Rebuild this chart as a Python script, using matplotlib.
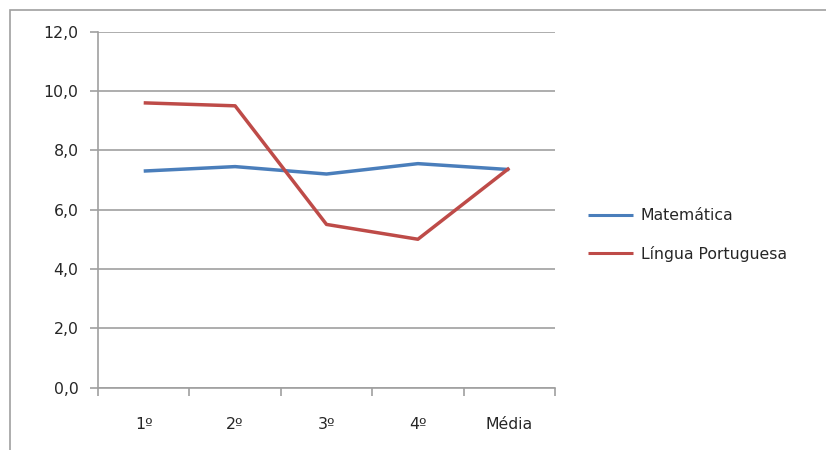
import matplotlib
matplotlib.use("Agg")
import matplotlib.pyplot as plt
from matplotlib.patches import Rectangle

categories = ["1º", "2º", "3º", "4º", "Média"]
matematica = [7.3, 7.45, 7.2, 7.55, 7.35]
lingua_portuguesa = [9.6, 9.5, 5.5, 5.0, 7.4]
series_names = ["Matemática", "Língua Portuguesa"]
y_ticks = [0, 2, 4, 6, 8, 10, 12]

plt.rcParams["font.family"] = ["DejaVu Sans"]

grid_col = "#a0a0a0"
text_col = "#262626"
fs = 11.3

fig = plt.figure(figsize=(8.26, 4.5), dpi=100)

# outer chart frame
fig.patches.append(Rectangle((10 / 826, -0.05), 1.2, 0.05 + 1 - 10 / 450,
                             transform=fig.transFigure, fill=False,
                             edgecolor=grid_col, linewidth=1.2))

ax = fig.add_axes([98 / 826, 1 - 387.5 / 450, (555 - 98) / 826, (387.5 - 31.7) / 450])

x = list(range(len(categories)))
ax.plot(x, matematica, color="#4a7ebb", linewidth=2.5, label=series_names[0],
        solid_capstyle="butt", solid_joinstyle="round")
ax.plot(x, lingua_portuguesa, color="#be4b48", linewidth=2.5, label=series_names[1],
        solid_capstyle="butt", solid_joinstyle="round")

ax.set_xlim(-0.5, len(categories) - 0.5)
ax.set_ylim(0, 12)
ax.set_yticks(y_ticks)
ax.set_yticklabels([f"{v:.1f}".replace(".", ",") for v in y_ticks])
ax.set_xticks(x)
ax.set_xticklabels(categories)
ax.set_xticks([i + 0.5 for i in range(-1, len(categories))], minor=True)

ax.grid(axis="y", color=grid_col, linewidth=1.2)
ax.set_axisbelow(True)
for s in ["top", "right"]:
    ax.spines[s].set_visible(False)
for s in ["left", "bottom"]:
    ax.spines[s].set_color(grid_col)
    ax.spines[s].set_linewidth(1.2)

ax.tick_params(axis="y", direction="out", length=6, color=grid_col, width=1.2,
               labelsize=fs, labelcolor=text_col, pad=8)
ax.tick_params(axis="x", which="major", length=0, labelsize=fs,
               labelcolor=text_col, pad=21)
ax.tick_params(axis="x", which="minor", direction="out", length=6,
               color=grid_col, width=1.2)

leg = fig.legend(loc="upper left", bbox_to_anchor=(574 / 826, 1 - 194 / 450),
                 frameon=False, fontsize=fs, handlelength=2.85,
                 handletextpad=0.5, labelspacing=1.45, labelcolor=text_col)
for h in leg.get_lines():
    h.set_linewidth(2.2)

fig.savefig("out.png", dpi=100)
